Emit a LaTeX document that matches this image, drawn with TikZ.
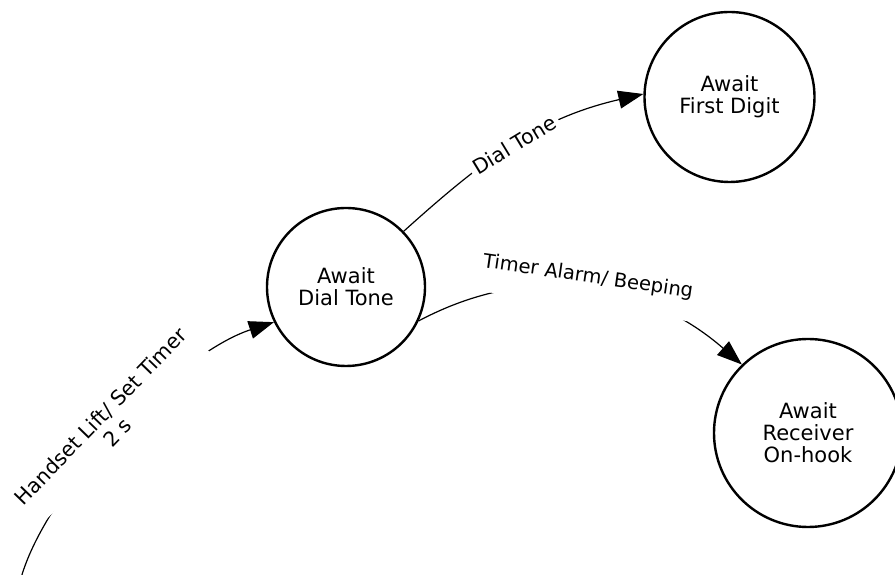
\documentclass[tikz,border=0pt]{standalone}
\usepackage{fontspec}
\setmainfont{DejaVu Sans}
\usepackage{tikz}
\usetikzlibrary{arrows.meta}
\tikzset{>={Triangle[length=25pt,width=18pt]}}

\begin{document}
\begin{tikzpicture}[x=1pt,y=1pt,font=\fontsize{21}{22}\selectfont,
    state/.style={draw,circle,line width=2.4pt,align=center,inner sep=0pt},
    trans/.style={->,line width=1.2pt},
    lbl/.style={fill=white,sloped,align=center,inner xsep=4pt,inner ysep=2pt,
      font=\fontsize{20.5}{23}\selectfont}]
    \useasboundingbox (0,0) rectangle (895,575);

    \node[state,minimum size=158pt] (DT) at (346,288) {Await\\Dial Tone};
    \node[state,minimum size=170pt] (FD) at (729.5,478) {Await\\First Digit};
    \node[state,minimum size=188pt] (RO) at (808,142) {Await\\Receiver\\On-hook};
    \coordinate (lift) at (21,-3);

    \draw[trans] (lift) to[out=74,in=198,looseness=.7] node[lbl,pos=.48,above=-11pt] {Handset Lift/ Set Timer\\2 s} (DT.206);
    \draw[trans] (DT.44) to[out=42,in=193] node[lbl] {Dial Tone} (FD.178);
    \draw[trans] (DT.-25) to[out=28,in=139] node[lbl,above=-18pt,text depth=22pt,
      font=\fontsize{19.5}{22}\selectfont] {Timer Alarm/ Beeping} (RO.134);

\end{tikzpicture}
\end{document}
